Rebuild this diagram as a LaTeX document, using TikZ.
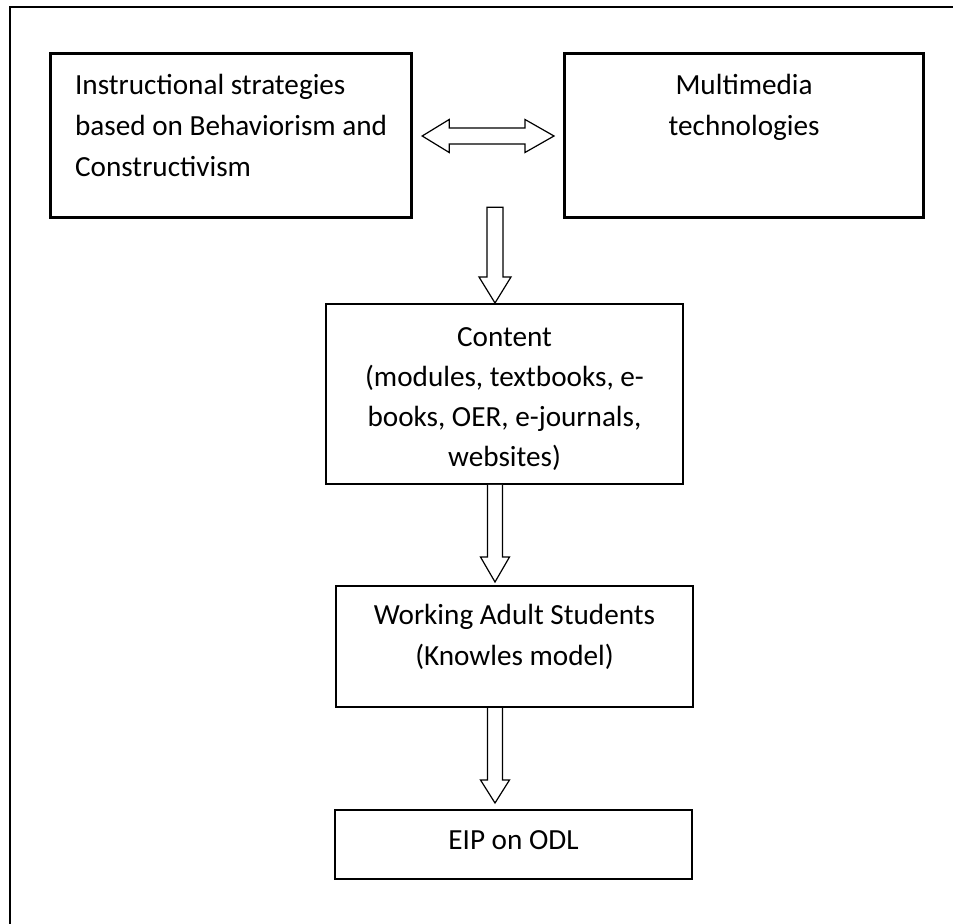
\documentclass[tikz,border=0pt]{standalone}
\usepackage{fontspec}
\setmainfont{Carlito}
\usepackage{tikz}
\usetikzlibrary{calc,positioning}

\tikzset{
	box/.style={draw, line width=1pt, rectangle, inner sep=0pt, minimum width=178.5pt,
		font=\fontsize{14.6}{20.5}\selectfont, align=center, anchor=north west},
	topbox/.style={box, line width=1.6pt},
	hollow/.style={draw, line width=0.6pt, fill=white, line join=miter},
	frame/.style={line width=1pt}
}

\begin{document}
\begin{tikzpicture}[x=0.5pt,y=-0.5pt]
		\useasboundingbox (0,0) rectangle (953,924);
		\draw[frame] (10,924) -- (10,7) -- (953,7);
		
		\node[topbox, align=left, minimum width=180.5pt, text height=61.5pt, text depth=20.5pt] (strat) at (49,52)
			{Instructional strategies\\based on Behaviorism and\\Constructivism};
		\node[topbox, minimum width=179.5pt, text height=41pt, text depth=41pt] (media) at (563,52)
			{Multimedia\\technologies};
		\node[box, font=\fontsize{14.6}{20}\selectfont, text height=81.5pt, text depth=8.5pt] (content) at (325,303)
			{Content\\(modules, textbooks, e-\\books, OER, e-journals,\\websites)};
		\node[box, text height=39.5pt, text depth=21pt] (adult) at (335,585)
			{Working Adult Students\\(Knowles model)};
		\node[box, text height=19.5pt, text depth=15pt] (eip) at (334,809) {EIP on ODL};
		
		\coordinate (axis) at (495,0);
		\coordinate (lr) at (0,136);
		
		% double arrow between the two top boxes
		\coordinate (dl) at ($(strat.east |- lr)+(9,0)$);
		\coordinate (dr) at ($(media.west |- lr)+(-9,0)$);
		\draw[hollow] (dl) -- ++(27,-16.5) -- ++(0,8.5) -- ($(dr)+(-29,-8)$) -- ++(0,-8.5) -- (dr)
			-- ++(-29,16.5) -- ++(0,-8.5) -- ($(dl)+(27,8)$) -- ++(0,8.5) -- cycle;
		
		% down arrows
		\coordinate (a1) at ($(strat.south -| axis)+(0,-12)$);
		\draw[hollow] ($(a1)+(-8,0)$) -- ($(content.north -| axis)+(-8,-26)$) -- ++(-8,0) -- (content.north -| axis)
			-- ++(16,-26) -- ++(-8,0) -- ($(a1)+(8,0)$) -- cycle;
		
		\draw[hollow] ($(content.south -| axis)+(-7.5,0)$) -- ($(adult.north -| axis)+(-7.5,-28)$) -- ++(-7,0)
			-- ($(adult.north -| axis)+(0,-3)$) -- ++(14.5,-25) -- ++(-7,0) -- ($(content.south -| axis)+(7.5,0)$);
		
		\draw[hollow] ($(adult.south -| axis)+(-7.5,0)$) -- ($(eip.north -| axis)+(-7.5,-29)$) -- ++(-7,0)
			-- ($(eip.north -| axis)+(0,-6)$) -- ++(14.5,-23) -- ++(-7,0) -- ($(adult.south -| axis)+(7.5,0)$);
		
	\end{tikzpicture}
\end{document}
